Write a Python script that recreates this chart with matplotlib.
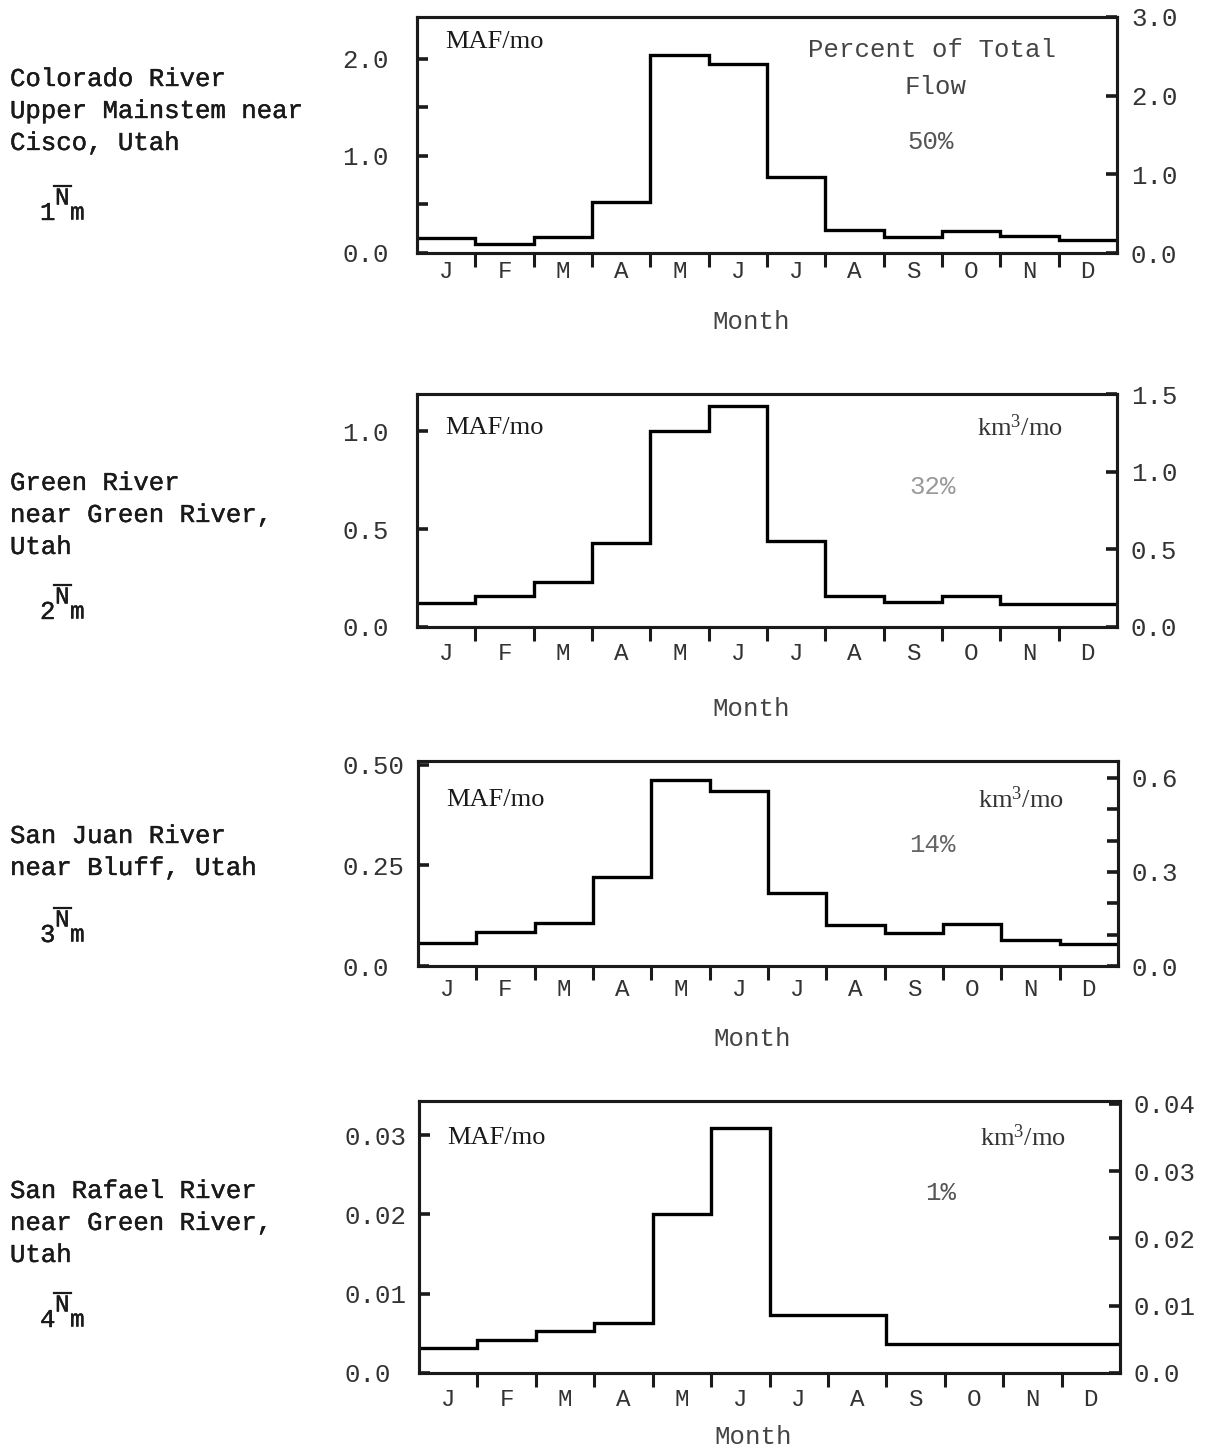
import numpy as np
import matplotlib.pyplot as plt
import matplotlib.patheffects as pe
from matplotlib.lines import Line2D

# mean monthly flows, million acre-feet per month
colorado = [0.15, 0.09, 0.16, 0.53, 2.04, 1.95, 0.78, 0.24, 0.16, 0.23, 0.18, 0.13]
green = [0.125, 0.16, 0.23, 0.43, 1.0, 1.13, 0.44, 0.16, 0.13, 0.16, 0.12, 0.12]
san_juan = [0.058, 0.084, 0.108, 0.221, 0.463, 0.435, 0.182, 0.103, 0.083, 0.105, 0.065, 0.054]
san_rafael = [0.0032, 0.0042, 0.0053, 0.0063, 0.0201, 0.0309, 0.0073, 0.0073, 0.0036, 0.0037, 0.0037, 0.0037]

months = ['J', 'F', 'M', 'A', 'M', 'J', 'J', 'A', 'S', 'O', 'N', 'D']

stations = [
    "Colorado River\nUpper Mainstem near\nCisco, Utah",
    "Green River\nnear Green River,\nUtah",
    "San Juan River\nnear Bluff, Utah",
    "San Rafael River\nnear Green River,\nUtah",
]
percents = ['50%', '32%', '14%', '1%']

left_ticks = [[0.0, 1.0, 2.0], [0.0, 0.5, 1.0], [0.0, 0.25, 0.50], [0.0, 0.01, 0.02, 0.03]]
left_labels = [['0.0', '1.0', '2.0'], ['0.0', '0.5', '1.0'], ['0.0', '0.25', '0.50'],
               ['0.0', '0.01', '0.02', '0.03']]
left_minor = [[0.5, 1.5], [], [], []]
right_ticks = [[0.0, 1.0, 2.0, 3.0], [0.0, 0.5, 1.0, 1.5], [0.0, 0.3, 0.6],
               [0.0, 0.01, 0.02, 0.03, 0.04]]
right_labels = [['0.0', '1.0', '2.0', '3.0'], ['0.0', '0.5', '1.0', '1.5'], ['0.0', '0.3', '0.6'],
                ['0.0', '0.01', '0.02', '0.03', '0.04']]
right_minor = [[], [], [0.1, 0.2, 0.4, 0.5], []]
left_top = [2.43, 1.19, 0.509, 0.0343]
right_top = [3.0, 1.49, 0.654, 0.0404]

W, H = 1209, 1450
plt.rcParams['font.family'] = ['Liberation Mono', 'DejaVu Sans Mono']
plt.rcParams['mathtext.fontset'] = 'custom'
plt.rcParams['mathtext.rm'] = 'Liberation Serif'
plt.rcParams['mathtext.it'] = 'Liberation Serif'

ink = '#1a1a1a'
fs = 18.5
heavy = [pe.withStroke(linewidth=0.3, foreground=ink)]

fig = plt.figure(figsize=(W / 100, H / 100), dpi=100)
fig.patch.set_facecolor('white')

# box edges in pixels: left, right, top, bottom
boxes = [(417, 1117, 17, 253), (417, 1117, 394, 627), (418, 1118, 761, 966), (419, 1120, 1101, 1373)]
month_pad = [5, 11, 9, 11]
xlabel_y = [-0.24, -0.30, -0.30, -0.19]
series = [colorado, green, san_juan, san_rafael]


def px(x, y):
    return x / W, 1 - y / H


for i, vals in enumerate(series):
    l, r, t, b = boxes[i]
    ax = fig.add_axes([l / W, 1 - b / H, (r - l) / W, (b - t) / H])
    ax.stairs(vals, np.arange(13), baseline=None, color='black', lw=2.4)
    ax.set_xlim(0, 12)
    ax.set_ylim(0, left_top[i])
    for s in ax.spines.values():
        s.set_linewidth(2.2)
        s.set_color(ink)

    # month boundaries get tick marks, month letters sit at bin centres
    ax.set_xticks(np.arange(1, 12))
    ax.set_xticks(np.arange(12) + 0.5, minor=True)
    ax.set_xticklabels(months, minor=True)
    ax.tick_params(axis='x', which='major', direction='out', length=10, width=2.2,
                   color=ink, labelbottom=False)
    ax.tick_params(axis='x', which='minor', length=0, pad=month_pad[i],
                   labelsize=fs - 1, labelcolor='#333333')

    ax.set_yticks(left_ticks[i])
    ax.set_yticklabels(left_labels[i])
    ax.set_yticks(left_minor[i], minor=True)
    ax.tick_params(axis='y', which='both', direction='in', length=8, width=2.6,
                   color=ink, pad=54, labelsize=fs, labelcolor='#333333')
    for lab in ax.get_yticklabels():
        lab.set_ha('left')

    ax.set_xlabel('Month', fontsize=fs, color='#444444')
    ax.xaxis.set_label_coords(0.477, xlabel_y[i])

    ax2 = ax.twinx()
    ax2.set_ylim(0, right_top[i])
    ax2.set_yticks(right_ticks[i])
    ax2.set_yticklabels(right_labels[i])
    ax2.set_yticks(right_minor[i], minor=True)
    ax2.tick_params(axis='y', which='both', direction='in', length=8, width=2.6,
                    color=ink, pad=10, labelsize=fs, labelcolor='#333333')
    for s in ax2.spines.values():
        s.set_linewidth(2.2)
        s.set_color(ink)

    ax.text(0.04, [0.894, 0.854, 0.81, 0.864][i], 'MAF/mo', transform=ax.transAxes,
            family='Liberation Serif', fontsize=19, color=ink, va='center')
    if i == 0:
        ax.text(0.559, 0.86, 'Percent of Total', transform=ax.transAxes,
                fontsize=fs, color='#444444', va='center')
        ax.text(0.697, 0.703, 'Flow', transform=ax.transAxes,
                fontsize=fs, color='#444444', va='center')
        ax.text(0.701, 0.47, percents[i], transform=ax.transAxes,
                fontsize=fs, color='#555555', va='center')
    else:
        ax.text(0.80, [0.0, 0.854, 0.81, 0.864][i], r'km$^{3}$/mo', transform=ax.transAxes,
                family='Liberation Serif', fontsize=19, color='#333333', va='center')
        ax.text([0, 0.704, 0.701, 0.722][i], [0, 0.60, 0.59, 0.662][i], percents[i],
                transform=ax.transAxes, fontsize=fs,
                color=['', '#999999', '#666666', '#555555'][i], va='center')

# station names and flow symbols down the left side
name_y = [80, 484, 837, 1192]
sym_y = [213, 612, 935, 1320]
for i in range(4):
    fig.text(*px(10, name_y[i] - 13), stations[i], fontsize=fs, color=ink,
             va='top', linespacing=1.42, path_effects=heavy)
    fig.text(*px(40, sym_y[i]), str(i + 1), fontsize=fs, color=ink, va='center',
             path_effects=heavy)
    fig.text(*px(55, sym_y[i] - 15), 'N', fontsize=fs - 1, color=ink, va='center',
             path_effects=heavy)
    fig.text(*px(70, sym_y[i]), 'm', fontsize=fs - 1, color=ink, va='center',
             path_effects=heavy)
    x0, y0 = px(54, sym_y[i] - 27)
    x1, _ = px(71, sym_y[i] - 27)
    fig.add_artist(Line2D([x0, x1], [y0, y0], color=ink, lw=1.6))

fig.savefig('out.png', dpi=100, facecolor='white')
